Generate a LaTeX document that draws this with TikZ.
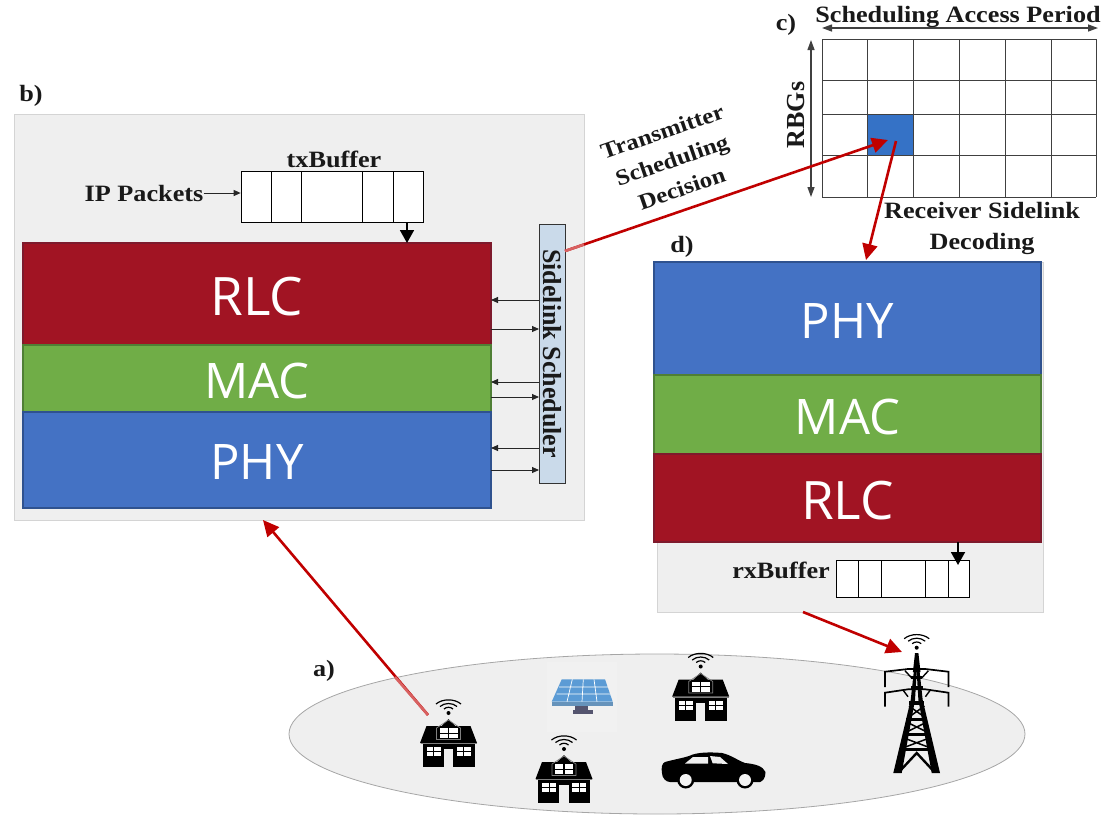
\documentclass[tikz,border=0pt]{standalone}
\usepackage{fontspec}
\setmainfont{Liberation Serif}
\newfontfamily\widefont[FakeStretch=1.12]{Liberation Serif}
\newfontfamily\layerfont{Open Sans}
\usetikzlibrary{arrows.meta}
\definecolor{panelgray}{HTML}{EFEFEF}
\definecolor{panelline}{HTML}{D4D4D4}
\definecolor{rlcred}{HTML}{A11423}
\definecolor{rlcline}{HTML}{7E1A2C}
\definecolor{macgreen}{HTML}{70AD47}
\definecolor{macline}{HTML}{4F7F35}
\definecolor{phyblue}{HTML}{4472C4}
\definecolor{phyline}{HTML}{2F528F}
\definecolor{schedblue}{HTML}{CADAEA}
\definecolor{cellblue}{HTML}{3572C6}
\definecolor{arrowred}{HTML}{C00000}
\definecolor{solarblue}{HTML}{5B9BD5}
\definecolor{standcol}{HTML}{55556F}
\tikzset{
  x=1pt,y=-1pt,
  panel/.style={draw=panelline,fill=panelgray,line width=1pt},
  layer/.style={line width=1.4pt,text=white,font=\layerfont\fontsize{49}{49}\selectfont,inner sep=0pt,text height=39pt,text depth=0pt},
  rlclayer/.style={layer,font=\layerfont\fontsize{53}{53}\selectfont,text height=42pt},
  lbl/.style={font=\widefont\bfseries\fontsize{23.4}{30}\selectfont,inner sep=0pt,text=black!90},
  lblnarrow/.style={font=\bfseries\fontsize{26}{30}\selectfont,inner sep=0pt,text=black!90},
  bufbox/.style={draw=black,fill=white,line width=.7pt},
  redarrow/.style={draw=arrowred,line width=2.6pt,-{Triangle[length=16pt,width=15pt]}},
  fadeseg/.style={draw=arrowred!62!white,line width=2.6pt},
  blackthin/.style={draw=black!85,line width=.9pt,-{Triangle[length=7pt,width=6pt]}},
  blackthick/.style={draw=black,line width=1.8pt,-{Triangle[length=13pt,width=14pt]}},
  dimarrow/.style={draw=black!75,line width=1.3pt,{Triangle[length=10pt,width=7pt]}-{Triangle[length=10pt,width=7pt]}},
  gridline/.style={draw=black!75,line width=.9pt},
  wifi/.pic={
    \fill[black] (0,0) circle (2);
    \draw[black,line width=1.2pt] (-4.5,-4) .. controls (-2,-6.3) and (2,-6.3) .. (4.5,-4);
    \draw[black,line width=1.2pt] (-8.5,-6.5) .. controls (-4,-10.5) and (4,-10.5) .. (8.5,-6.5);
    \draw[black,line width=1.2pt] (-12.5,-9) .. controls (-6,-14.5) and (6,-14.5) .. (12.5,-9);
  },
  house/.pic={
    \fill[black] (-28.5,0) -- (-22,-17) -- (-7,-17) -- (0,-24) -- (7,-17) -- (22,-17) -- (28.5,0) -- cycle;
    \fill[black] (-26,1) rectangle (26,24);
    \fill[panelgray] (-4.7,6) rectangle (4.7,24);
    \draw[gray,line width=.5pt] (-28,.5) -- (28,.5);
    \draw[gray,line width=.7pt] (-12,-3.5) -- (-12,-15) -- (0,-23) -- (12,-15) -- (12,-3.5) -- cycle;
    \fill[white] (-9,-15) rectangle (-.6,-5);
    \fill[white] (.6,-15) rectangle (9,-5);
    \fill[black] (-9,-10.5) rectangle (9,-9.5);
    \foreach \s in {-1,1}{
      \fill[white] (\s*8,4) rectangle (\s*22,13);
      \fill[black] (\s*8,8) rectangle (\s*22,9);
      \fill[black] (\s*14.5,4) rectangle (\s*15.5,13);
    }
    \pic at (0,-30) {wifi};
  }
}
\begin{document}
\begin{tikzpicture}
\useasboundingbox (0,0) rectangle (1103,815);
% ---- a) ellipse
\draw[draw=black!35,fill=panelgray,line width=.8pt] (657,734) ellipse [x radius=368,y radius=80];
\node[lbl] (la) at (324,671) {a)};
% solar
\fill[panelgray!85!white] (547,662) rectangle (617,732);
\fill[solarblue] (561.7,679.3) -- (605,679.3) -- (612.7,701.7) -- (551.7,701.7) -- cycle;
\draw[white,line width=.7pt] (572.3,679.3) -- (567,701.7) (583.3,679.3) -- (582,701.7) (594,679.3) -- (597,701.7) (559,687) -- (608,687) (556.5,694) -- (610,694);
\fill[solarblue!70!gray] (551.7,701.7) rectangle (612.7,706);
\fill[standcol] (575,706) rectangle (588,710);
\fill[standcol] (572.7,710) rectangle (593,714);
% houses
\pic at (448.5,743) {house};
\pic at (564,779) {house};
\pic at (700.7,696.5) {house};
% car
\fill[black] (662,773) .. controls (661,768) and (662,763) .. (665,762)
  .. controls (676,759) and (683,758) .. (689,756)
  .. controls (697,752) and (710,752) .. (722,753)
  .. controls (731,755) and (737,760) .. (745,763)
  .. controls (755,764) and (763,766) .. (765.5,772)
  .. controls (765.5,778) and (763,781) .. (760,782)
  -- (670,782) .. controls (666,782) and (662,778) .. (662,773) -- cycle;
\fill[panelgray] (685,763.5) -- (693,757) -- (708,757) -- (708,763.5) -- cycle;
\fill[panelgray] (710,756) -- (720,757) -- (728,764) -- (712.7,763.3) -- cycle;
\foreach \c in {685.7,745}{
  \fill[black] (\c,780) circle (8.5);
  \fill[panelgray!60!white] (\c,780) circle (6);
}
% tower
\begin{scope}[line join=miter]
\fill[black] (915,653) -- (918.4,653) -- (920.5,672) -- (912.9,672) -- cycle;
\fill[black] (914.5,665) -- (910.7,700) -- (893.3,773) -- (901.7,773) -- (915,700) -- (916.7,672) -- cycle;
\fill[black] (918.9,665) -- (922.7,700) -- (940,773) -- (931.7,773) -- (918.4,700) -- (916.7,672) -- cycle;
\draw[black,line width=1.7pt] (885,687) -- (885,671.7) -- (908,669) -- (925.4,669) -- (948.4,671.7) -- (948.4,687);
\draw[black,line width=1.7pt] (885,706.7) -- (885,692.7) -- (908,689.3) -- (925.4,689.3) -- (948.4,692.7) -- (948.4,706.7);
\draw[black,line width=1.4pt] (905,670.7) -- (911.7,678) (928.4,670.7) -- (921.7,678) (903,690) -- (908,696.7) (930.4,690) -- (925.4,696.7);
\fill[black] (911,676) rectangle (922.4,678.5);
\fill[black] (910.5,685.5) rectangle (923,688.5);
\fill[black] (909,701) rectangle (924.4,705);
\draw[black,line width=1.5pt] (909,706) -- (924.4,717) (924.4,706) -- (909,717);
\fill[black] (906,717.5) rectangle (927.4,721);
\draw[black,line width=1.5pt] (906.5,722) -- (927,732) (927,722) -- (906.5,732);
\fill[black] (904,732.5) rectangle (929.4,736);
\draw[black,line width=1.5pt] (904,738) -- (929.4,747.5) (929.4,738) -- (904,747.5);
\fill[black] (901,748) rectangle (932.4,751);
\draw[black,line width=2.4pt] (899,772) -- (916.7,753) -- (934.4,772);
\end{scope}
\pic at (916.7,647.7) {wifi};
% ---- b) panel
\node[lbl] (lb) at (31,96) {b)};
\draw[panel] (14,114) rectangle (584,520);
\node[draw=rlcline,fill=rlcred,rlclayer,minimum width=468pt,minimum height=102pt] (rlcT) at (257,294) {RLC};
\node[draw=macline,fill=macgreen,layer,minimum width=468pt,minimum height=67pt] (macT) at (257,378.5) {MAC};
\node[draw=phyline,fill=phyblue,layer,minimum width=468pt,minimum height=96pt] (phyT) at (257,460) {PHY};
\node[draw=black!80,fill=schedblue,line width=.9pt,minimum width=26pt,minimum height=259pt,inner sep=0pt] (sched) at (552,353.5) {};
\node[lblnarrow,rotate=-90] at (sched.center) {Sidelink Scheduler};
\foreach \name/\yy in {a1/300,a2/382,a3/448}{
  \coordinate (\name s) at (539,\yy); \coordinate (\name t) at (491,\yy);
  \draw[blackthin] (\name s) -- (\name t);
}
\foreach \name/\yy in {b1/329,b2/397,b3/470}{
  \coordinate (\name s) at (491,\yy); \coordinate (\name t) at (539,\yy);
  \draw[blackthin] (\name s) -- (\name t);
}
% tx buffer
\node[bufbox,minimum width=182pt,minimum height=51pt,inner sep=0pt] (txbuf) at (332,196.5) {};
\foreach \xx in {271,301,362,393} \draw[black,line width=.7pt] (\xx,171) -- (\xx,222);
\node[lbl] (txl) at (334,159) {txBuffer};
\node[lbl] (ip) at (144,193) {IP Packets};
\draw[blackthin] (ip.east) -- (ip.east -| txbuf.west);
\coordinate (txa) at (407,222);
\coordinate (txb) at (407,243);
\draw[blackthick] (txa) -- (txb);
% ---- d) stack
\draw[panel] (657,262) rectangle (1043,612);
\node[lbl] (ld) at (682,247) {d)};
\node[draw=phyline,fill=phyblue,layer,minimum width=387pt,minimum height=113pt] (phyR) at (847.5,318.5) {PHY};
\node[draw=macline,fill=macgreen,layer,minimum width=387pt,minimum height=79pt] (macR) at (847.5,414.5) {MAC};
\node[draw=rlcline,fill=rlcred,rlclayer,minimum width=387pt,minimum height=88pt] (rlcR) at (847.5,498) {RLC};
\node[bufbox,minimum width=133pt,minimum height=37pt,inner sep=0pt] (rxbuf) at (902.5,578.5) {};
\foreach \xx in {858,881,925,948} \draw[black,line width=.7pt] (\xx,560) -- (\xx,597);
\node[lbl] (rxl) at (781,570) {rxBuffer};
\coordinate (rxa) at (958,542);
\coordinate (rxb) at (958,565);
\draw[blackthick] (rxa) -- (rxb);
% ---- c) grid
\node[lbl] (lc) at (786,25) {c)};
\fill[cellblue] (867.5,114) rectangle (913,155);
\foreach \xx in {822,867.5,913,959.5,1005,1051,1096} \draw[gridline] (\xx,39) -- (\xx,197);
\foreach \yy in {39,80,114,155,197} \draw[gridline] (822,\yy) -- (1096,\yy);
\node[lbl,font=\widefont\bfseries\fontsize{23.4}{30}\selectfont] (sap) at (958,17) {Scheduling Access Period};
\coordinate (sapl) at (822,28); \coordinate (sapr) at (1098,28);
\draw[dimarrow] (sapl) -- (sapr);
\node[lblnarrow,rotate=90] (rbg) at (796,115) {RBGs};
\coordinate (rbgt) at (811,40); \coordinate (rbgb) at (811,197);
\draw[dimarrow] (rbgt) -- (rbgb);
\node[lbl,align=center,font=\widefont\bfseries\fontsize{23.4}{31}\selectfont] (rsd) at (982,228) {Receiver Sidelink\\Decoding};
\node[lbl,align=center,rotate=19,font=\widefont\bfseries\fontsize{22.3}{30}\selectfont] (tsd) at (672,160) {Transmitter\\Scheduling\\Decision};
% ---- red connectors
\coordinate (cellin) at (888,140);
\coordinate (cellout) at (896,141);
\coordinate (phyin) at (866,260);
\coordinate (schedout) at (565,251);
\coordinate (schedfade) at (584,244.5);
\coordinate (bottom) at (263,520);
\coordinate (houseout) at (428,715);
\coordinate (housefade) at (395,677);
\coordinate (rxout) at (803,612);
\coordinate (towerin) at (902,652);
\draw[redarrow] (schedout) -- (cellin);
\draw[redarrow] (cellout) -- (phyin);
\draw[redarrow] (houseout) -- (bottom);
\draw[redarrow] (rxout) -- (towerin);
\draw[fadeseg] (schedout) -- (schedfade);
\draw[fadeseg] (houseout) -- (housefade);
\end{tikzpicture}
\end{document}
